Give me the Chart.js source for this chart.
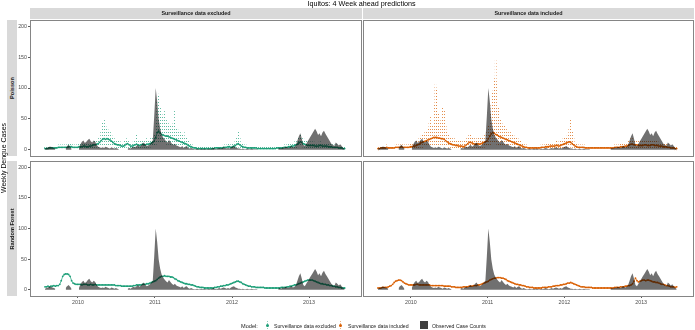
<!DOCTYPE html>
<html>
<head>
<meta charset="utf-8">
<script src="https://cdn.jsdelivr.net/npm/chart.js@4.4.1/dist/chart.umd.min.js"></script>
<style>
  html, body { margin:0; padding:0; background:#fff; }
  body { width:695px; height:330px; position:relative; overflow:hidden; font-family:"Liberation Sans", Arial, sans-serif; }
  canvas { position:absolute; left:0; top:0; }
  .abs { position:absolute; }
  .title { left:0; width:723px; top:0; font-size:7.2px; line-height:7.2px; text-align:center; color:#000; white-space:nowrap; }
  .cstrip { background:#d9d9d9; height:11px; top:8px; font-size:5.4px; font-weight:bold; line-height:11px; text-align:center; color:#1a1a1a; white-space:nowrap; }
  .rstrip { background:#d9d9d9; left:7px; width:10px; }
  .rlab { font-size:5.6px; font-weight:bold; color:#1a1a1a; white-space:nowrap; transform:rotate(-90deg); text-align:center; line-height:8px; }
  .panel { border:1px solid #858585; box-sizing:border-box; pointer-events:none; }
  .ytitle { font-size:6.9px; color:#000; white-space:nowrap; transform:rotate(-90deg); text-align:center; line-height:8px; }
  .leg { font-size:5.2px; color:#222; white-space:nowrap; line-height:8px; top:321.5px; }
</style>
</head>
<body>
<canvas id="c1" width="695" height="330"></canvas>
<canvas id="c2" width="695" height="330"></canvas>
<canvas id="c3" width="695" height="330"></canvas>
<canvas id="c4" width="695" height="330"></canvas>

<div class="abs title">Iquitos: 4 Week ahead predictions</div>
<div class="abs cstrip" style="left:30px;width:332px;">Surveillance data excluded</div>
<div class="abs cstrip" style="left:363px;width:331px;">Surveillance data included</div>
<div class="abs rstrip" style="top:20px;height:136px;"></div>
<div class="abs rstrip" style="top:161px;height:135px;"></div>
<div class="abs rlab" style="left:-38px;top:84px;width:100px;">Poisson</div>
<div class="abs rlab" style="left:-38px;top:224.5px;width:100px;">Random Forest</div>
<div class="abs ytitle" style="left:-46px;top:154px;width:100px;">Weekly Dengue Cases</div>
<div class="abs panel" style="left:30px;top:20px;width:332px;height:137px;"></div>
<div class="abs panel" style="left:363px;top:20px;width:331px;height:137px;"></div>
<div class="abs panel" style="left:30px;top:161px;width:332px;height:136px;"></div>
<div class="abs panel" style="left:363px;top:161px;width:331px;height:136px;"></div>

<div class="abs leg" style="left:241px;font-size:5.6px;">Model:</div>
<div class="abs" style="left:266.5px;top:321px;width:1px;height:9px;background:repeating-linear-gradient(to bottom, rgba(27,158,119,0.5) 0 1px, transparent 1px 2.5px);"></div>
<div class="abs" style="left:265.5px;top:324px;width:3px;height:3px;border-radius:50%;background:#1b9e77;"></div>
<div class="abs leg" style="left:274px;">Surveillance data excluded</div>
<div class="abs" style="left:339.5px;top:321px;width:1px;height:9px;background:repeating-linear-gradient(to bottom, rgba(217,95,2,0.5) 0 1px, transparent 1px 2.5px);"></div>
<div class="abs" style="left:338.5px;top:324px;width:3px;height:3px;border-radius:50%;background:#d95f02;"></div>
<div class="abs leg" style="left:348px;">Surveillance data included</div>
<div class="abs" style="left:420px;top:321px;width:8px;height:8px;background:#3f3f3f;"></div>
<div class="abs leg" style="left:432px;">Observed Case Counts</div>

<script>
// ---------- DATA (weekly, season start late July 2009) ----------
const seasonStart = 2009.572;          // decimal year of first week
const yearTicks = [2010, 2011, 2012, 2013];
const yTicks = [0, 50, 100, 150, 200];

const obsCases = [
2,3,4,5,5,4,3,2,null,null,
null,null,null,null,3,6,8,5,2,null,
null,null,null,3,9,13,15,11,13,16,
18,14,12,15,13,8,5,4,3,4,
3,5,4,3,2,4,3,2,3,2,
1,null,null,null,null,null,2,3,2,4,
5,4,6,8,5,7,10,12,8,6,
7,9,12,15,55,100,78,50,35,25,
20,17,14,12,16,13,10,8,10,7,
6,5,4,6,3,5,6,3,2,3,
2,1,1,2,1,1,2,1,2,1,
1,2,1,2,3,2,1,2,3,2,
3,4,3,2,3,2,4,5,6,4,
3,2,2,1,2,1,1,2,1,1,
2,1,1,1,1,null,null,null,null,null,
null,null,null,null,null,null,null,null,2,3,
2,4,3,5,4,3,5,6,4,5,
8,15,22,27,18,8,6,10,14,18,
22,26,30,34,30,24,27,22,28,31,
26,22,18,14,10,8,6,12,10,7,
9,6,3,2];

// Poisson, surveillance data excluded
const poisExclMean = [
2,2,2,3,3,3,3,3,3,4,
4,4,4,4,4,4,5,5,5,4,
4,4,4,5,5,5,6,6,5,5,
6,6,7,8,8,9,10,12,15,17,
18,17,18,17,16,14,12,10,9,8,
8,7,6,6,7,9,10,8,6,6,
7,8,9,8,7,8,9,8,8,9,
9,10,11,12,14,20,28,30,27,25,
24,23,22,22,21,20,19,18,17,16,
15,14,13,12,11,10,9,7,6,5,
4,3,3,2,2,2,2,2,2,2,
2,2,2,2,2,3,3,3,3,3,
3,4,4,4,5,5,4,5,6,7,
9,10,8,6,5,4,4,3,3,3,
3,3,3,3,2,2,2,2,2,2,
2,2,2,2,2,2,2,3,3,3,
3,3,4,4,4,5,5,6,6,7,
8,9,11,13,12,10,9,8,7,7,
7,7,7,6,6,6,7,7,6,6,
6,6,5,5,5,4,4,4,4,3,
3,3,2,2];
const poisExclLo = [
0,0,0,1,1,1,1,1,1,1,
1,1,1,1,1,1,2,2,2,1,
1,1,1,2,2,2,2,2,2,2,
2,2,3,3,3,4,4,5,6,7,
8,7,8,7,7,6,5,4,4,3,
3,3,2,2,3,4,4,3,2,2,
3,3,4,3,3,3,4,3,3,4,
4,4,5,5,6,8,12,13,12,11,
10,10,9,9,9,8,8,8,7,7,
6,6,5,5,4,4,4,3,2,2,
1,1,1,0,0,0,0,0,0,0,
0,0,0,0,0,1,1,1,1,1,
1,1,1,1,2,2,1,2,2,3,
4,4,3,2,2,1,1,1,1,1,
1,1,1,1,0,0,0,0,0,0,
0,0,0,0,0,0,0,1,1,1,
1,1,1,1,1,2,2,2,2,3,
3,4,5,6,5,4,4,3,3,3,
3,3,3,2,2,2,3,3,2,2,
2,2,2,2,2,1,1,1,1,1,
1,1,0,0];
const poisExclHi = [
5,5,5,6,6,6,6,6,7,8,
8,8,8,8,8,8,9,9,9,8,
8,8,8,9,9,10,11,11,10,10,
11,11,12,14,15,16,18,22,30,45,
48,40,35,32,30,25,20,18,16,15,
14,13,12,12,14,18,17,14,11,11,
13,15,24,15,13,14,16,14,15,18,
17,18,19,20,24,45,80,90,70,60,
55,62,48,45,42,40,38,45,65,35,
32,30,28,25,30,22,20,14,11,9,
8,6,6,5,5,5,5,5,5,5,
5,5,5,5,5,6,6,6,6,6,
6,8,8,8,10,10,8,10,12,15,
22,30,18,12,10,8,8,6,6,6,
6,6,6,6,5,5,5,5,5,5,
5,5,5,5,5,5,5,6,6,6,
6,6,8,8,8,10,10,11,11,13,
15,17,20,24,22,18,16,15,13,13,
13,13,13,12,12,12,13,13,12,12,
12,12,10,10,10,8,8,8,8,6,
6,6,5,5];

// Poisson, surveillance data included
const poisInclMean = [
2,2,3,3,3,3,4,3,3,3,
3,3,4,4,4,4,5,4,4,4,
4,4,5,5,6,6,7,8,9,11,
12,13,14,15,16,17,18,19,20,20,
20,19,19,18,18,17,15,13,11,10,
9,8,8,7,7,6,6,6,5,6,
8,10,12,12,11,10,9,9,10,9,
10,11,12,13,14,18,22,26,28,27,
25,24,22,21,20,19,18,17,16,15,
14,13,12,11,10,9,8,7,6,5,
4,4,3,3,3,3,3,3,3,3,
3,4,4,4,5,5,5,6,6,6,
6,7,7,6,7,8,9,10,11,12,
13,12,10,8,6,5,4,4,4,4,
4,3,3,3,3,3,3,3,3,3,
3,3,3,3,3,3,3,3,3,3,
3,4,4,4,4,5,5,5,6,6,
7,8,9,9,8,8,8,7,7,7,
7,8,8,7,7,7,8,8,7,7,
7,6,6,6,5,5,5,4,4,3,
3,3,2,2];
const poisInclLo = [
0,0,1,1,1,1,1,1,1,1,
1,1,1,1,1,1,2,1,1,1,
1,1,2,2,2,2,3,3,3,4,
4,5,5,5,6,6,6,7,7,7,
7,7,7,6,6,6,5,5,4,4,
3,3,3,2,2,2,2,2,2,2,
3,4,4,4,4,4,3,3,4,3,
4,4,4,5,5,6,8,9,10,10,
9,9,8,8,7,7,7,6,6,5,
5,5,4,4,4,3,3,2,2,2,
1,1,1,1,1,1,1,1,1,1,
1,1,1,1,2,2,2,2,2,2,
2,2,2,2,2,3,3,3,4,4,
5,4,4,3,2,2,1,1,1,1,
1,1,1,1,1,1,1,1,1,1,
1,1,1,1,1,1,1,1,1,1,
1,1,1,1,1,2,2,2,2,2,
2,3,3,3,3,3,3,2,2,2,
2,3,3,2,2,2,3,3,2,2,
2,2,2,2,2,2,2,1,1,1,
1,1,0,0];
const poisInclHi = [
5,5,6,6,6,6,8,6,6,6,
6,6,8,8,8,8,10,8,8,8,
8,8,10,10,12,12,14,16,18,22,
24,26,28,30,35,45,55,40,75,105,
100,60,45,50,70,65,40,30,25,22,
20,18,18,16,15,14,14,14,12,14,
18,22,26,25,22,20,18,18,20,18,
20,22,24,26,28,40,60,75,95,115,
144,110,70,50,45,40,38,35,30,28,
28,26,25,22,20,18,16,14,12,10,
8,8,6,6,6,6,6,6,6,6,
6,8,8,8,10,10,10,12,12,12,
12,14,14,12,15,16,18,20,22,26,
35,48,30,18,12,10,8,8,8,8,
8,6,6,6,6,6,6,6,6,6,
6,6,6,6,6,6,6,6,6,6,
6,8,8,8,8,10,10,10,12,12,
14,16,18,18,16,16,16,14,14,14,
14,16,16,14,14,14,16,16,14,14,
14,12,12,12,10,10,10,8,8,6,
6,6,5,5];

// Random Forest, surveillance data excluded
const rfExcl = [
5,5,6,5,6,6,7,6,7,7,
9,15,22,25,26,26,25,22,15,11,
10,9,9,9,9,8,9,9,9,8,
8,9,8,8,9,8,8,8,8,8,
8,8,8,8,8,8,8,8,7,7,
7,7,6,6,6,6,6,6,6,6,
7,7,8,8,8,8,9,9,9,10,
10,11,12,13,14,15,17,19,21,22,
22,23,22,22,22,21,21,20,18,17,
15,14,13,12,11,10,10,9,9,8,
8,7,6,5,5,4,4,4,3,3,
3,3,3,3,3,4,4,5,5,6,
6,7,7,8,8,9,10,11,12,13,
14,14,13,12,10,9,8,7,6,6,
5,5,5,4,4,4,4,4,4,3,
3,3,3,3,3,3,3,3,3,3,
4,4,4,4,5,5,6,6,7,8,
8,9,10,11,12,13,14,15,16,16,
16,16,15,14,13,12,11,10,10,9,
9,8,8,7,7,6,6,5,5,4,
4,3,3,3];

// Random Forest, surveillance data included
const rfIncl = [
3,3,3,4,4,4,4,5,6,7,
9,12,14,15,16,16,15,13,11,10,
9,8,8,8,8,8,9,9,8,8,
8,8,8,8,8,8,7,7,7,7,
7,7,7,7,7,6,6,6,6,6,
5,5,5,4,4,4,4,4,5,5,
5,5,6,6,6,7,7,7,8,8,
9,10,11,12,13,14,16,17,18,19,
19,20,20,20,19,19,18,17,15,14,
13,12,11,10,9,9,8,8,7,7,
6,5,5,4,4,4,3,3,3,3,
3,3,4,4,4,4,5,5,5,6,
6,7,7,7,8,8,9,9,10,11,
11,12,11,10,9,8,7,6,5,5,
5,4,4,4,4,4,3,3,3,3,
3,3,3,3,3,3,3,3,3,3,
3,4,4,4,4,5,5,5,6,6,
7,7,8,10,14,19,15,13,14,15,
16,16,15,16,16,15,14,13,13,12,
12,11,10,9,9,8,7,7,6,5,
5,5,4,5];

// ---------- helpers ----------
const weekX = obsCases.map((_, i) => seasonStart + i * 7 / 365.25);
const GREEN = '#1b9e77', ORANGE = '#d95f02';
const FONT = '"Liberation Sans", Arial, sans-serif';
const X_MIN = 2009.377, X_MAX = 2013.675;
const Y_MIN = -10, Y_MAX = 210;
const Y_AXIS_W = 12, X_AXIS_H = 10;

function dashPattern(color) {
  const c = document.createElement('canvas');
  c.width = 2; c.height = 3;
  const g = c.getContext('2d');
  g.fillStyle = color;
  g.fillRect(0, 0, 1, 1);
  return g.createPattern(c, 'repeat');
}
function pts(arr) { return arr.map((v, i) => ({ x: weekX[i], y: v })); }

function makePanel(id, area, showY, showX, mean, lo, hi, color, dashColor) {
  const datasets = [
    { type: 'line', label: 'Observed Case Counts', data: pts(obsCases),
      fill: 'origin', backgroundColor: 'rgba(0,0,0,0.56)', borderWidth: 0,
      pointRadius: 0, spanGaps: false, tension: 0 },
    { type: 'line', label: 'Model', data: pts(mean), borderColor: color,
      borderWidth: 0.7, pointRadius: 0.9, pointBorderWidth: 0,
      pointBackgroundColor: color, fill: false, tension: 0 }
  ];
  if (lo && hi) {
    datasets.push({ type: 'bar', label: 'Interval',
      data: weekX.map((x, i) => ({ x: x, y: [lo[i], hi[i]] })),
      backgroundColor: dashPattern(dashColor), borderWidth: 0,
      barThickness: 1, grouped: false });
  }
  const pad = {
    left: showY ? area.left - Y_AXIS_W : area.left,
    right: 695 - area.right,
    top: area.top,
    bottom: showX ? 330 - area.bottom - X_AXIS_H : 330 - area.bottom
  };
  new Chart(document.getElementById(id), {
    type: 'line',
    data: { datasets },
    options: {
      responsive: false, animation: false, devicePixelRatio: 1,
      layout: { padding: pad, autoPadding: false },
      plugins: { legend: { display: false }, tooltip: { enabled: false }, title: { display: false } },
      scales: {
        x: { type: 'linear', min: X_MIN, max: X_MAX, offset: false, display: showX,
          afterBuildTicks: (ax) => { ax.ticks = yearTicks.map(v => ({ value: v })); },
          afterFit: (ax) => { ax.height = showX ? X_AXIS_H : 0; },
          grid: { display: true, drawOnChartArea: false, drawTicks: true, tickLength: 2, color: '#333', lineWidth: 0.8, offset: false },
          border: { display: false },
          ticks: { padding: 1, color: '#4d4d4d', font: { family: FONT, size: 5.3 }, maxRotation: 0, autoSkip: false,
            callback: (v) => String(v) } },
        y: { type: 'linear', min: Y_MIN, max: Y_MAX, display: showY,
          afterBuildTicks: (ax) => { ax.ticks = yTicks.map(v => ({ value: v })); },
          afterFit: (ax) => { ax.width = showY ? Y_AXIS_W : 0; },
          grid: { display: true, drawOnChartArea: false, drawTicks: true, tickLength: 2, color: '#333', lineWidth: 0.8 },
          border: { display: false },
          ticks: { padding: 1, color: '#4d4d4d', font: { family: FONT, size: 5.3 }, autoSkip: false } }
      }
    }
  });
}

const areaTL = { left: 30, right: 361, top: 20, bottom: 156 };
const areaTR = { left: 363, right: 693, top: 20, bottom: 156 };
const areaBL = { left: 30, right: 361, top: 161, bottom: 296 };
const areaBR = { left: 363, right: 693, top: 161, bottom: 296 };

makePanel('c1', areaTL, true, false, poisExclMean, poisExclLo, poisExclHi, GREEN, 'rgba(27,158,119,0.7)');
makePanel('c2', areaTR, false, false, poisInclMean, poisInclLo, poisInclHi, ORANGE, 'rgba(217,95,2,0.7)');
makePanel('c3', areaBL, true, true, rfExcl, null, null, GREEN);
makePanel('c4', areaBR, false, true, rfIncl, null, null, ORANGE);
</script>
</body>
</html>
